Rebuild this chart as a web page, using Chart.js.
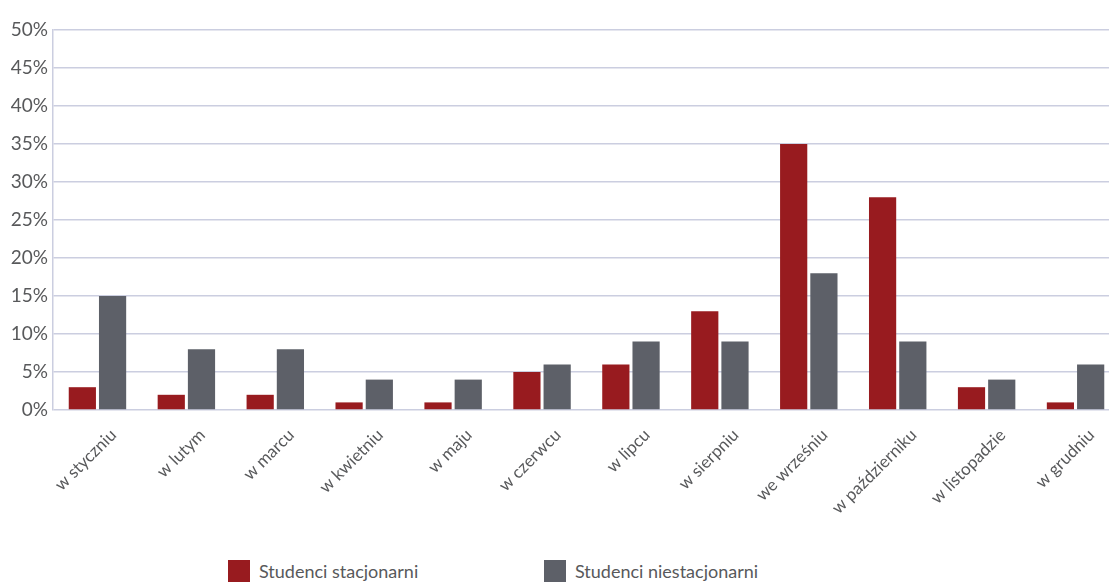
<!DOCTYPE html>
<html>
<head>
<meta charset="utf-8">
<script src="https://cdn.jsdelivr.net/npm/chart.js@4"></script>
<style>
  body { margin: 0; background: #fff; font-family: Lato, sans-serif; }
  #wrap { position: relative; width: 1109px; height: 583px; overflow: hidden; }
  #box { position: absolute; left: 0; top: 0; width: 1120px; height: 540px; }
  .leg { position: absolute; top: 560px; display: flex; align-items: center; font-size: 18px; color: #58595b; }
  .leg span { display: inline-block; width: 22px; height: 22px; margin-right: 9px; }
</style>
</head>
<body>
<div id="wrap">
  <div id="box"><canvas id="chart"></canvas></div>
  <div class="leg" style="left:228px"><span style="background:#981b1f"></span>Studenci stacjonarni</div>
  <div class="leg" style="left:544px"><span style="background:#5d6068"></span>Studenci niestacjonarni</div>
</div>
<script>
'use strict';

// Data
const months = ['w styczniu', 'w lutym', 'w marcu', 'w kwietniu', 'w maju', 'w czerwcu',
    'w lipcu', 'w sierpniu', 'we wrześniu', 'w październiku', 'w listopadzie', 'w grudniu'];
const stacjonarni = [3, 2, 2, 1, 1, 5, 6, 13, 35, 28, 3, 1];
const niestacjonarni = [15, 8, 8, 4, 4, 6, 9, 9, 18, 9, 4, 6];

const gridColor = '#cbcee0';
const textColor = '#58595b';

const ctx = document.getElementById('chart').getContext('2d');
const chart = new Chart(ctx, {
    type: 'bar',
    data: {
        labels: months,
        datasets: [{
            label: 'Studenci stacjonarni',
            data: stacjonarni,
            backgroundColor: '#981b1f'
        }, {
            label: 'Studenci niestacjonarni',
            data: niestacjonarni,
            backgroundColor: '#5d6068'
        }]
    },
    options: {
        responsive: true,
        maintainAspectRatio: false,
        animation: false,
        datasets: {
            bar: { categoryPercentage: 0.68, barPercentage: 0.9 }
        },
        layout: { padding: { top: 30, right: 0, left: 0, bottom: 0 } },
        plugins: {
            legend: { display: false },
            tooltip: { enabled: false }
        },
        scales: {
            x: {
                grid: { display: false },
                border: { display: false },
                ticks: {
                    color: textColor,
                    font: { family: 'Lato', size: 17 },
                    minRotation: 45,
                    maxRotation: 45,
                    padding: 7,
                    labelOffset: 16
                },
                afterFit: (scale) => { scale.height = 130; }
            },
            y: {
                min: 0,
                max: 50,
                grid: { color: gridColor, lineWidth: 1.5, drawTicks: false },
                border: { color: gridColor, width: 1.5 },
                ticks: {
                    stepSize: 5,
                    color: textColor,
                    font: { family: 'Lato', size: 19 },
                    padding: 5,
                    callback: (v) => v + '%'
                },
                afterFit: (scale) => { scale.width = 53; }
            }
        }
    }
});
</script>
</body>
</html>
